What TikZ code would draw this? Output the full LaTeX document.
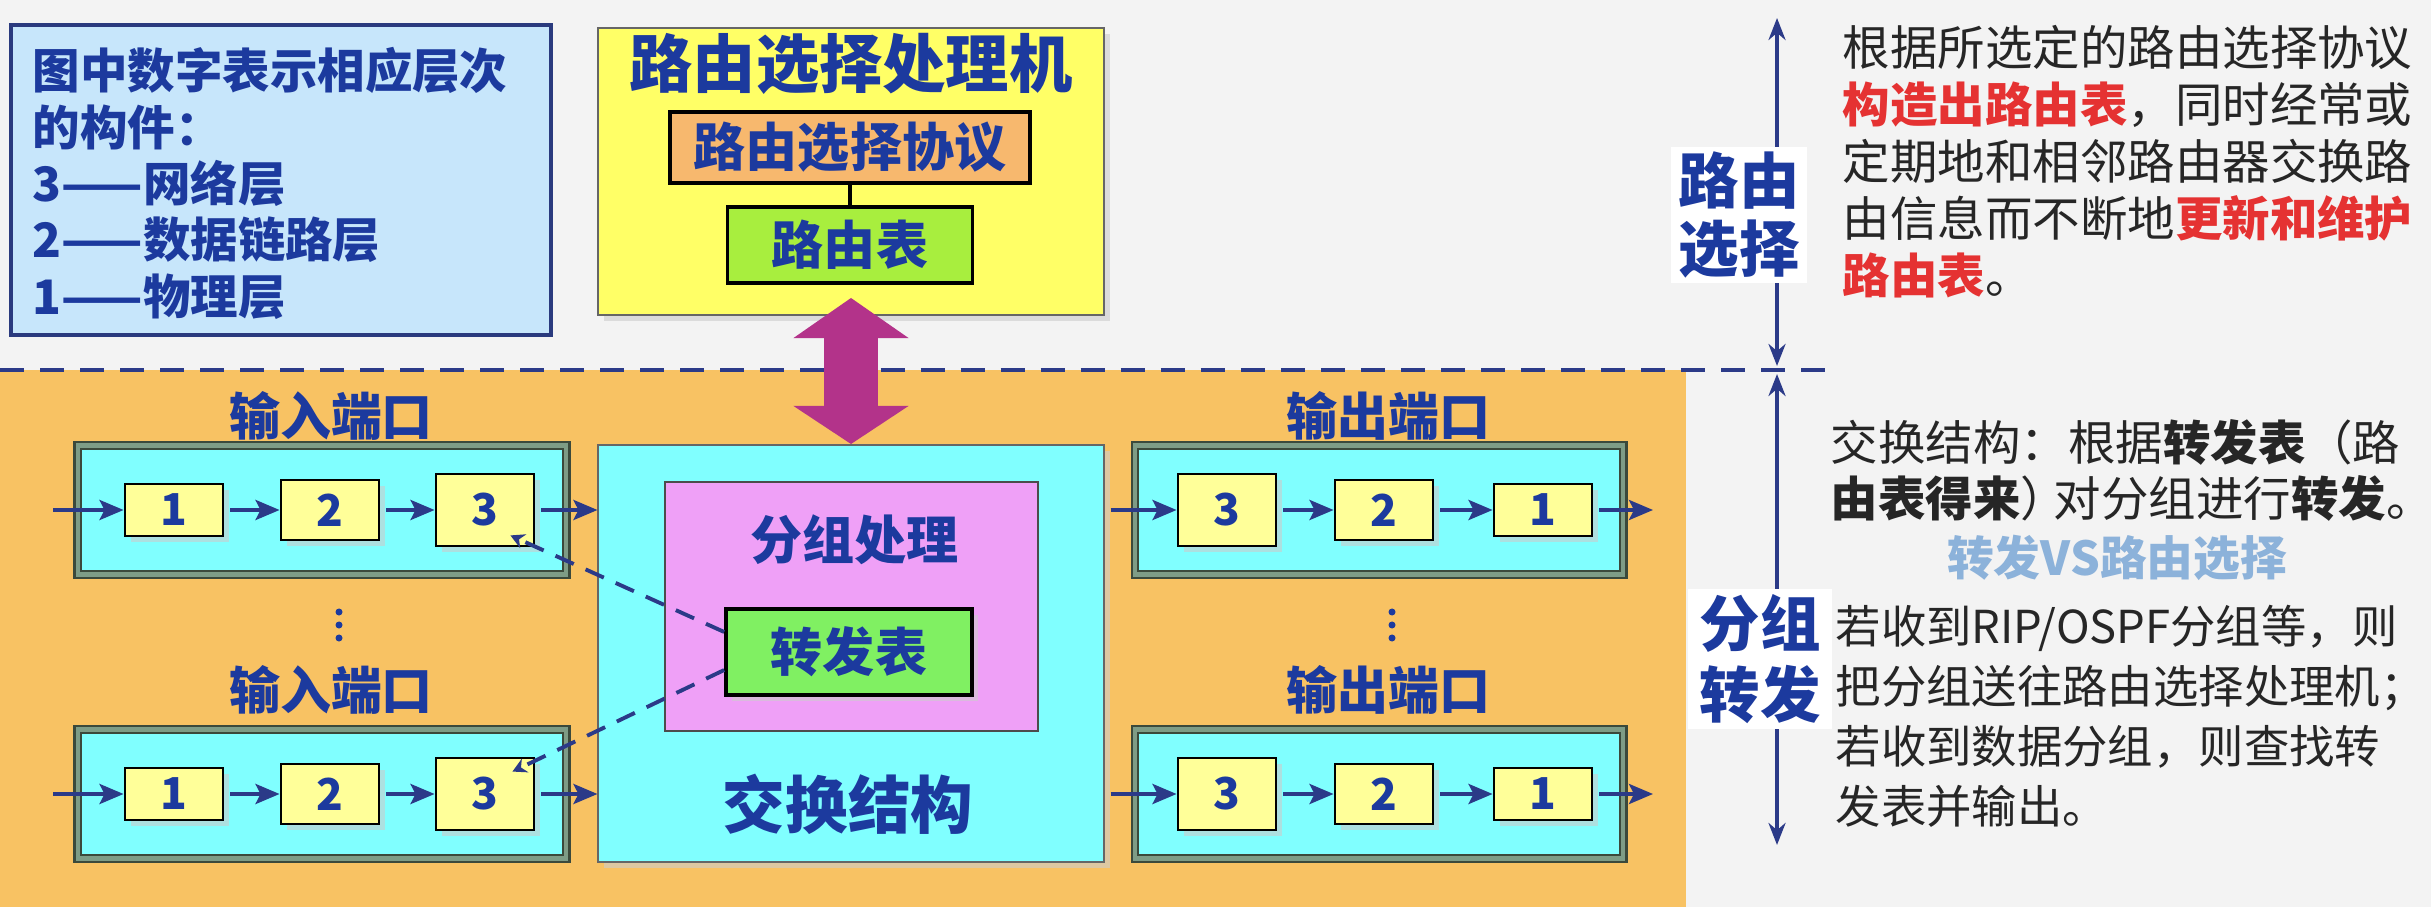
\documentclass[tikz,border=0pt]{standalone}
\usepackage{fontspec}
\setmainfont{Noto Sans CJK SC}
\usetikzlibrary{arrows.meta,shadows}

\definecolor{pagebg}{HTML}{F3F3F3}
\definecolor{fwdzone}{HTML}{F8C263}
\definecolor{labelblue}{HTML}{1C3A9E}
\definecolor{linenavy}{HTML}{2B3A88}
\definecolor{legendfill}{HTML}{C7E6FB}
\definecolor{legendedge}{HTML}{2A3A7E}
\definecolor{procyellow}{HTML}{FFFF66}
\definecolor{protoorange}{HTML}{F7B86E}
\definecolor{rtgreen}{HTML}{A8EE3E}
\definecolor{fabriccyan}{HTML}{80FFFF}
\definecolor{pktpink}{HTML}{EFA0F7}
\definecolor{fwdgreen}{HTML}{80F062}
\definecolor{layeryellow}{HTML}{FFFF99}
\definecolor{linkmagenta}{HTML}{B3338A}
\definecolor{portedge}{HTML}{3B493B}
\definecolor{portband}{HTML}{7E9C86}
\definecolor{noteblack}{HTML}{262626}
\definecolor{notered}{HTML}{E53232}
\definecolor{vsblue}{HTML}{8CB2DA}

\newcommand{\pxfont}[2]{\fontsize{#1}{#2}\selectfont}

\tikzset{
  boxshadow/.style={drop shadow={shadow xshift=0.06cm, shadow yshift=-0.06cm, fill=black!20, opacity=0.6}},
  arr/.style={line width=1.1pt, color=linenavy, shorten <=0.06cm, -{Stealth[length=2.4mm, width=2mm, inset=0.5mm]}},
  layer/.style={draw=black, line width=0.8pt, fill=layeryellow, text=labelblue, font=\pxfont{12.5}{15}\bfseries, minimum width=0.98cm, inner sep=0pt, boxshadow},
  port/.style={draw=portedge, double=portband, double distance=0.045cm, line width=0.6pt, fill=fabriccyan, minimum width=4.88cm, minimum height=1.29cm, inner sep=0pt},
  portlabel/.style={text=labelblue, font=\pxfont{14.5}{17}\bfseries, inner sep=0pt},
  tagbox/.style={draw=black, line width=1pt, text=labelblue, font=\pxfont{14.8}{17}\bfseries, inner sep=0pt},
  blocktext/.style={align=left, anchor=north west, inner sep=0pt, text=noteblack}
}

\begin{document}
\begin{tikzpicture}[x=0.01cm, y=-0.01cm]

\fill[pagebg] (0,0) rectangle (2431,907);
\fill[fwdzone] (0,370) rectangle (1686,907);
\useasboundingbox (0,0) rectangle (2431,907);

\draw[linenavy, line width=1.2pt, dash pattern=on 0.24cm off 0.16cm] (0,370) -- (1833,370);

% legend
\node[draw=legendedge, line width=1.1pt, fill=legendfill, minimum width=5.39cm, minimum height=3.10cm, inner sep=0pt] (legend) at (281,180) {};
\node[anchor=north west, align=left, inner sep=0pt, text=labelblue, font=\pxfont{13.5}{16}\bfseries] (legendtext) at (32,47) {图中数字表示相应层次\\的构件：\\3——网络层\\2——数据链路层\\1——物理层};

% routing processor
\node[draw=black!60, line width=0.5pt, fill=procyellow, minimum width=5.05cm, minimum height=2.87cm, inner sep=0pt, boxshadow] (proc) at (851,171.5) {};
\node[text=labelblue, font=\pxfont{18}{20}\bfseries, inner sep=0pt] (proctitle) at (851,64) {路由选择处理机};
\node[tagbox, fill=protoorange, minimum width=3.6cm, minimum height=0.71cm] (proto) at (850,147.5) {路由选择协议};
\node[tagbox, fill=rtgreen, minimum width=2.45cm, minimum height=0.76cm] (rtable) at (850,245) {路由表};
\draw[line width=1pt] (proto) -- (rtable);

% switch fabric
\node[draw=black!60, line width=0.5pt, fill=fabriccyan, minimum width=5.05cm, minimum height=4.17cm, inner sep=0pt, boxshadow] (fabric) at (851,653.5) {};
\node[draw=black!70, line width=0.5pt, fill=pktpink, minimum width=3.73cm, minimum height=2.49cm, inner sep=0pt] (pkt) at (851.5,606.5) {};
\node[text=labelblue, font=\pxfont{14.8}{17}\bfseries, inner sep=0pt] (pkttitle) at (854.5,540) {分组处理};
\node[tagbox, fill=fwdgreen, minimum width=2.46cm, minimum height=0.86cm, boxshadow] (fwd) at (849,652) {转发表};
\node[text=labelblue, font=\pxfont{17.8}{20}\bfseries, inner sep=0pt] (fabrictitle) at (848,804) {交换结构};

\coordinate (linktop) at (851,298);
\draw[linkmagenta, line width=0.53cm, {Triangle[length=0.4cm, width=1.15cm, line width=0pt]}-{Triangle[length=0.38cm, width=1.15cm, line width=0pt]}] (linktop) -- (fabric.north);

% ports
\foreach \r/\y/\ly in {A/510/416,B/794/690} {
  \node[port] (in\r) at (322,\y) {};
  \node[port] (out\r) at (1379,\y) {};
  \node[portlabel] (inlab\r) at (331,\ly) {输入端口};
  \node[portlabel] (outlab\r) at (1388,\ly) {输出端口};
  \foreach \d/\x/\h in {1/174/0.52,2/330/0.60,3/485/0.72}
    \node[layer, minimum height=\h cm] (in\r\d) at (\x,\y) {\d};
  \foreach \d/\x/\h in {3/1227/0.72,2/1384/0.60,1/1543/0.52}
    \node[layer, minimum height=\h cm] (out\r\d) at (\x,\y) {\d};
  \coordinate (src\r) at (47,\y);
  \coordinate (dst\r) at (1653,\y);
  \draw[arr] (src\r) -- (in\r1);
  \draw[arr] (in\r1) -- (in\r2);
  \draw[arr] (in\r2) -- (in\r3);
  \draw[arr] (in\r3) -- (in\r3 -| fabric.west);
  \draw[arr] (fabric.east |- out\r3) -- (out\r3);
  \draw[arr] (out\r3) -- (out\r2);
  \draw[arr] (out\r2) -- (out\r1);
  \draw[arr] (out\r1) -- (dst\r);
};

\foreach \t in {612,625,638} {
  \fill[labelblue] (339,\t) circle[radius=0.035cm];
  \fill[labelblue] (1392,\t) circle[radius=0.035cm];
};

\draw[linenavy, line width=1.1pt, dash pattern=on 0.2cm off 0.13cm, -{Stealth[length=1.4mm, width=1.5mm]}] ([yshift=0.2cm]fwd.west) -- ([xshift=-0.25cm, yshift=0.12cm]inA3.south east);
\draw[linenavy, line width=1.1pt, dash pattern=on 0.2cm off 0.13cm, -{Stealth[length=1.4mm, width=1.5mm]}] ([yshift=-0.18cm]fwd.west) -- ([xshift=-0.23cm, yshift=-0.15cm]inB3.north east);

% right side
\coordinate (rtop) at (1777,18);
\coordinate (rmidA) at (1777,366);
\coordinate (rmidB) at (1777,374);
\coordinate (rbot) at (1777,845);
\draw[linenavy, line width=1.1pt, {Stealth[length=2.2mm, width=1.7mm]}-{Stealth[length=2.2mm, width=1.7mm]}] (rtop) -- (rmidA);
\draw[linenavy, line width=1.1pt, {Stealth[length=2.2mm, width=1.7mm]}-{Stealth[length=2.2mm, width=1.7mm]}] (rmidB) -- (rbot);

\node[fill=white, minimum width=1.36cm, minimum height=1.36cm, inner sep=0pt, align=center, text=labelblue, font=\pxfont{17.2}{19.4}\bfseries] (rtlabel) at (1739,215) {路由\\选择};
\node[fill=white, minimum width=1.44cm, minimum height=1.40cm, inner sep=0pt, align=center, text=labelblue, font=\pxfont{17.2}{20.2}\bfseries] (fwlabel) at (1760,659) {分组\\转发};

\node[blocktext, font=\pxfont{13.5}{16.2}] (rtnote) at (1842,25) {根据所选定的路由选择协议\\{\color{notered}\bfseries 构造出路由表}，同时经常或\\定期地和相邻路由器交换路\\由信息而不断地{\color{notered}\bfseries 更新和维护}\\{\color{notered}\bfseries 路由表}。};
\node[blocktext, font=\pxfont{13.5}{15.9}] (fwnote) at (1830,419) {交换结构：根据{\bfseries 转发表}（路\\{\bfseries 由表得来}）\kern-0.3em对分组进行{\bfseries 转发}。\kern-0.45em};
\node[text=vsblue, font=\pxfont{13.3}{16}\bfseries, inner sep=0pt] (vsnote) at (2117,558) {转发VS路由选择};
\node[blocktext, font=\pxfont{12.9}{17.1}] (pktnote) at (1835,604) {若收到RIP/OSPF分组等，则\\把分组送往路由选择处理机；\\若收到数据分组，则查找转\\发表并输出。};

\end{tikzpicture}
\end{document}
